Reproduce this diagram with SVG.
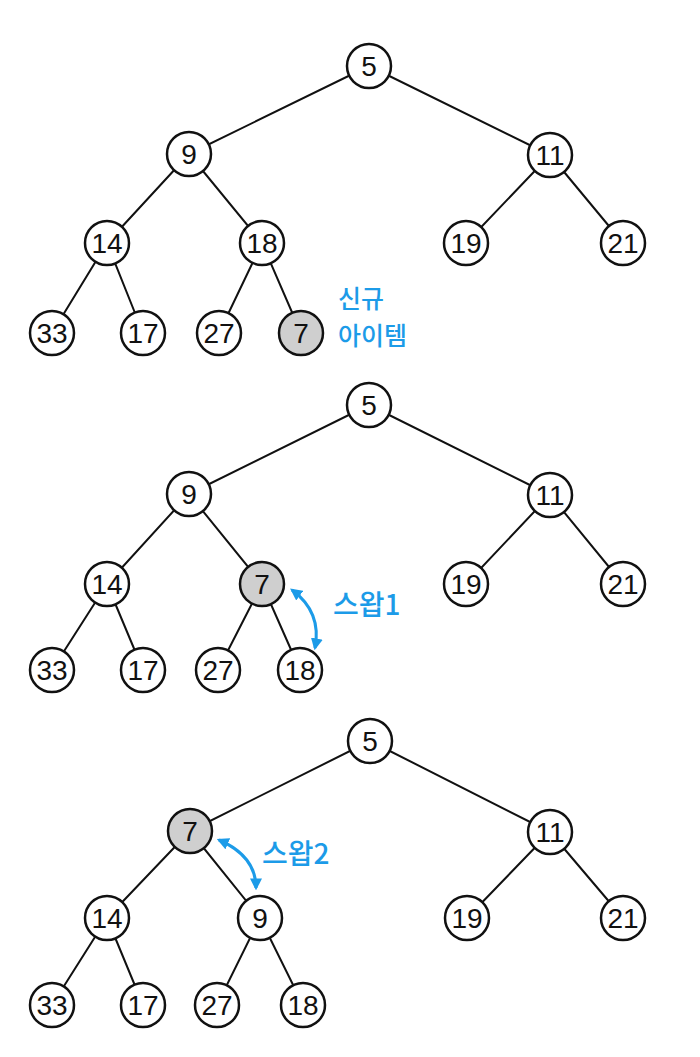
<svg xmlns="http://www.w3.org/2000/svg" width="700" height="1057" viewBox="0 0 700 1057">
<style>
.e{stroke:#111;stroke-width:2;fill:none;stroke-linecap:round}
.n{fill:#fff;stroke:#111;stroke-width:2.5}
.g{fill:#cfcfcf;stroke:#111;stroke-width:2.5}
.t{font-family:"Liberation Sans",sans-serif;font-size:28px;fill:#111;text-anchor:middle;dominant-baseline:central}
.k{font-family:"Noto Sans CJK KR",sans-serif;font-size:28px;fill:#1c9be8;font-weight:500}
.k2{font-family:"Noto Sans CJK KR",sans-serif;font-size:25px;fill:#1c9be8;font-weight:500}
.a{stroke:#1c9be8;stroke-width:3;fill:none;marker-start:url(#ah);marker-end:url(#ah)}
</style>
<defs>
<marker id="ah" viewBox="0 0 10 10" refX="8" refY="5" markerWidth="4" markerHeight="4" orient="auto-start-reverse" markerUnits="strokeWidth">
<path d="M0,0 L10,5 L0,10 Z" fill="#1c9be8"/>
</marker>
</defs>
<rect width="700" height="1057" fill="#fff"/>
<g id="connectors">
<line class="e" x1="369" y1="66" x2="189" y2="154"/>
<line class="e" x1="369" y1="66" x2="550" y2="155"/>
<line class="e" x1="189" y1="154" x2="107" y2="243"/>
<line class="e" x1="189" y1="154" x2="262" y2="243"/>
<line class="e" x1="550" y1="155" x2="466" y2="243"/>
<line class="e" x1="550" y1="155" x2="623" y2="243"/>
<line class="e" x1="107" y1="243" x2="52" y2="333"/>
<line class="e" x1="107" y1="243" x2="143" y2="333"/>
<line class="e" x1="262" y1="243" x2="219" y2="333"/>
<line class="e" x1="262" y1="243" x2="301" y2="333"/>
<line class="e" x1="369" y1="405" x2="189" y2="494"/>
<line class="e" x1="369" y1="405" x2="550" y2="495"/>
<line class="e" x1="189" y1="494" x2="107" y2="584"/>
<line class="e" x1="189" y1="494" x2="262" y2="584"/>
<line class="e" x1="550" y1="495" x2="466" y2="584"/>
<line class="e" x1="550" y1="495" x2="623" y2="584"/>
<line class="e" x1="107" y1="584" x2="52" y2="670"/>
<line class="e" x1="107" y1="584" x2="143" y2="670"/>
<line class="e" x1="262" y1="584" x2="218" y2="670"/>
<line class="e" x1="262" y1="584" x2="300" y2="670"/>
<line class="e" x1="370" y1="741" x2="190" y2="831"/>
<line class="e" x1="370" y1="741" x2="550" y2="832"/>
<line class="e" x1="190" y1="831" x2="107" y2="918"/>
<line class="e" x1="190" y1="831" x2="260" y2="918"/>
<line class="e" x1="550" y1="832" x2="467" y2="918"/>
<line class="e" x1="550" y1="832" x2="623" y2="918"/>
<line class="e" x1="107" y1="918" x2="52" y2="1005"/>
<line class="e" x1="107" y1="918" x2="143" y2="1005"/>
<line class="e" x1="260" y1="918" x2="217" y2="1005"/>
<line class="e" x1="260" y1="918" x2="303" y2="1005"/>
<path class="a" d="M292 590 Q322 612 315 648"/>
<path class="a" d="M219 840 Q256 856 256 888"/>
</g>
<g id="t1-5"><circle class="n" cx="369" cy="66" r="22"/><text class="t" x="369" y="66">5</text></g>
<g id="t1-9"><circle class="n" cx="189" cy="154" r="22"/><text class="t" x="189" y="154">9</text></g>
<g id="t1-11"><circle class="n" cx="550" cy="155" r="22"/><text class="t" x="550" y="155">11</text></g>
<g id="t1-14"><circle class="n" cx="107" cy="243" r="22"/><text class="t" x="107" y="243">14</text></g>
<g id="t1-18"><circle class="n" cx="262" cy="243" r="22"/><text class="t" x="262" y="243">18</text></g>
<g id="t1-19"><circle class="n" cx="466" cy="243" r="22"/><text class="t" x="466" y="243">19</text></g>
<g id="t1-21"><circle class="n" cx="623" cy="243" r="22"/><text class="t" x="623" y="243">21</text></g>
<g id="t1-33"><circle class="n" cx="52" cy="333" r="22"/><text class="t" x="52" y="333">33</text></g>
<g id="t1-17"><circle class="n" cx="143" cy="333" r="22"/><text class="t" x="143" y="333">17</text></g>
<g id="t1-27"><circle class="n" cx="219" cy="333" r="22"/><text class="t" x="219" y="333">27</text></g>
<g id="t1-7"><circle class="g" cx="301" cy="333" r="22"/><text class="t" x="301" y="333">7</text></g>
<g id="label-new"><text class="k2" x="338" y="308">신규</text><text class="k2" x="338" y="345">아이템</text></g>
<g id="t2-5"><circle class="n" cx="369" cy="405" r="22"/><text class="t" x="369" y="405">5</text></g>
<g id="t2-9"><circle class="n" cx="189" cy="494" r="22"/><text class="t" x="189" y="494">9</text></g>
<g id="t2-11"><circle class="n" cx="550" cy="495" r="22"/><text class="t" x="550" y="495">11</text></g>
<g id="t2-14"><circle class="n" cx="107" cy="584" r="22"/><text class="t" x="107" y="584">14</text></g>
<g id="t2-7"><circle class="g" cx="262" cy="584" r="22"/><text class="t" x="262" y="584">7</text></g>
<g id="t2-19"><circle class="n" cx="466" cy="584" r="22"/><text class="t" x="466" y="584">19</text></g>
<g id="t2-21"><circle class="n" cx="623" cy="584" r="22"/><text class="t" x="623" y="584">21</text></g>
<g id="t2-33"><circle class="n" cx="52" cy="670" r="22"/><text class="t" x="52" y="670">33</text></g>
<g id="t2-17"><circle class="n" cx="143" cy="670" r="22"/><text class="t" x="143" y="670">17</text></g>
<g id="t2-27"><circle class="n" cx="218" cy="670" r="22"/><text class="t" x="218" y="670">27</text></g>
<g id="t2-18"><circle class="n" cx="300" cy="670" r="22"/><text class="t" x="300" y="670">18</text></g>
<g id="label-swap1"><text class="k" x="333" y="615">스왑1</text></g>
<g id="t3-5"><circle class="n" cx="370" cy="741" r="22"/><text class="t" x="370" y="741">5</text></g>
<g id="t3-7"><circle class="g" cx="190" cy="831" r="22"/><text class="t" x="190" y="831">7</text></g>
<g id="t3-11"><circle class="n" cx="550" cy="832" r="22"/><text class="t" x="550" y="832">11</text></g>
<g id="t3-14"><circle class="n" cx="107" cy="918" r="22"/><text class="t" x="107" y="918">14</text></g>
<g id="t3-9"><circle class="n" cx="260" cy="918" r="22"/><text class="t" x="260" y="918">9</text></g>
<g id="t3-19"><circle class="n" cx="467" cy="918" r="22"/><text class="t" x="467" y="918">19</text></g>
<g id="t3-21"><circle class="n" cx="623" cy="918" r="22"/><text class="t" x="623" y="918">21</text></g>
<g id="t3-33"><circle class="n" cx="52" cy="1005" r="22"/><text class="t" x="52" y="1005">33</text></g>
<g id="t3-17"><circle class="n" cx="143" cy="1005" r="22"/><text class="t" x="143" y="1005">17</text></g>
<g id="t3-27"><circle class="n" cx="217" cy="1005" r="22"/><text class="t" x="217" y="1005">27</text></g>
<g id="t3-18"><circle class="n" cx="303" cy="1005" r="22"/><text class="t" x="303" y="1005">18</text></g>
<g id="label-swap2"><text class="k" x="262" y="864">스왑2</text></g>
</svg>
